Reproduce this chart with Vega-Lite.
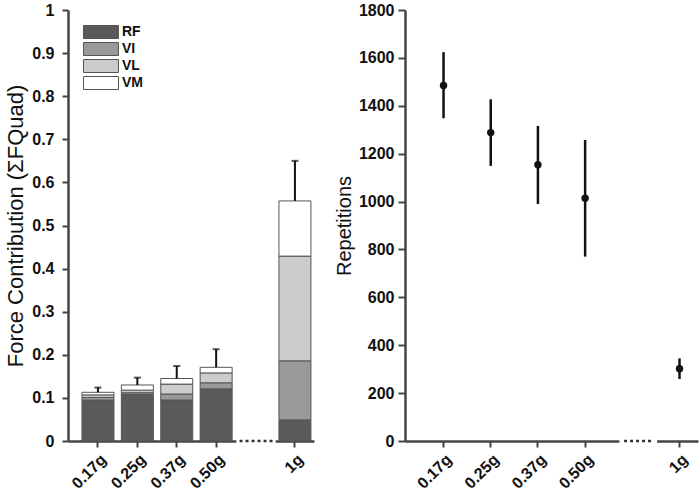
{
  "$schema": "https://vega.github.io/schema/vega-lite/v6.json",
  "background": "white",
  "padding": {"left": 4, "top": 2, "right": 3, "bottom": 3},
  "spacing": 20,
  "config": {
    "view": {"stroke": null},
    "font": "Liberation Sans",
    "axis": {
      "grid": false,
      "domainColor": "#444",
      "domainWidth": 2.5,
      "tickColor": "#444",
      "tickWidth": 2,
      "tickSize": 6,
      "labelFont": "Liberation Sans",
      "labelFontWeight": "bold",
      "labelFontSize": 16,
      "labelColor": "#111",
      "labelPadding": 4,
      "titleFont": "Liberation Sans",
      "titleFontWeight": "normal",
      "titleFontSize": 20,
      "titleColor": "#111"
    }
  },
  "datasets": {
    "muscles": [
      {"cond": "0.17g", "muscle": "RF", "value": 0.095},
      {"cond": "0.17g", "muscle": "VI", "value": 0.006},
      {"cond": "0.17g", "muscle": "VL", "value": 0.006},
      {"cond": "0.17g", "muscle": "VM", "value": 0.006},
      {"cond": "0.25g", "muscle": "RF", "value": 0.108},
      {"cond": "0.25g", "muscle": "VI", "value": 0.004},
      {"cond": "0.25g", "muscle": "VL", "value": 0.006},
      {"cond": "0.25g", "muscle": "VM", "value": 0.012},
      {"cond": "0.37g", "muscle": "RF", "value": 0.095},
      {"cond": "0.37g", "muscle": "VI", "value": 0.014},
      {"cond": "0.37g", "muscle": "VL", "value": 0.023},
      {"cond": "0.37g", "muscle": "VM", "value": 0.013},
      {"cond": "0.50g", "muscle": "RF", "value": 0.121},
      {"cond": "0.50g", "muscle": "VI", "value": 0.014},
      {"cond": "0.50g", "muscle": "VL", "value": 0.023},
      {"cond": "0.50g", "muscle": "VM", "value": 0.013},
      {"cond": "1g", "muscle": "RF", "value": 0.049},
      {"cond": "1g", "muscle": "VI", "value": 0.137},
      {"cond": "1g", "muscle": "VL", "value": 0.243},
      {"cond": "1g", "muscle": "VM", "value": 0.128}
    ],
    "forceErr": [
      {"cond": "0.17g", "total": 0.113, "upper": 0.124},
      {"cond": "0.25g", "total": 0.130, "upper": 0.147},
      {"cond": "0.37g", "total": 0.145, "upper": 0.174},
      {"cond": "0.50g", "total": 0.171, "upper": 0.213},
      {"cond": "1g", "total": 0.557, "upper": 0.650}
    ],
    "reps": [
      {"cond": "0.17g", "reps": 1485, "lo": 1348, "hi": 1624},
      {"cond": "0.25g", "reps": 1288, "lo": 1149, "hi": 1427},
      {"cond": "0.37g", "reps": 1154, "lo": 990, "hi": 1316},
      {"cond": "0.50g", "reps": 1014, "lo": 770, "hi": 1257},
      {"cond": "1g", "reps": 302, "lo": 259, "hi": 345}
    ],
    "gap": [{"cond": "gap"}]
  },
  "hconcat": [
    {
      "width": 246,
      "height": 431,
      "layer": [
        {
          "data": {"name": "muscles"},
          "mark": {"type": "bar", "stroke": "#555", "strokeWidth": 1},
          "encoding": {
            "x": {
              "field": "cond", "type": "nominal",
              "scale": {"type": "band", "domain": ["0.17g", "0.25g", "0.37g", "0.50g", "gap", "1g"], "paddingInner": 0.188, "paddingOuter": 0.216, "align": 0.82},
              "axis": {"values": ["0.17g", "0.25g", "0.37g", "0.50g", "1g"], "labelAngle": -45, "title": null}
            },
            "y": {
              "field": "value", "type": "quantitative", "stack": "zero",
              "scale": {"domain": [0, 1], "nice": false},
              "axis": {"values": [0, 0.1, 0.2, 0.3, 0.4, 0.5, 0.6, 0.7, 0.8, 0.9, 1], "format": ".1~f", "labelPadding": 8, "titleFontSize": 22, "titlePadding": 4, "title": "Force Contribution (ΣFQuad)"}
            },
            "color": {
              "field": "muscle", "type": "nominal",
              "scale": {"domain": ["RF", "VI", "VL", "VM"], "range": ["#5a5a5a", "#999999", "#cccccc", "#ffffff"]},
              "legend": {
                "orient": "none", "legendX": 26, "legendY": 15, "title": null,
                "symbolType": "M-2.69,-1H2.69V1H-2.69Z", "symbolSize": 169,
                "symbolStrokeColor": "#555", "symbolStrokeWidth": 1, "symbolOpacity": 1,
                "labelOffset": 14,
                "labelFontSize": 14, "labelFontWeight": "bold", "labelColor": "#111", "rowPadding": -1, "padding": 0
              }
            },
            "order": {"field": "muscle", "sort": "ascending"}
          }
        },
        {
          "data": {"name": "forceErr"},
          "mark": {"type": "rule", "color": "#111", "strokeWidth": 2},
          "encoding": {
            "x": {"field": "cond", "type": "nominal"},
            "y": {"field": "total", "type": "quantitative"},
            "y2": {"field": "upper"}
          }
        },
        {
          "data": {"name": "forceErr"},
          "mark": {"type": "tick", "color": "#111", "thickness": 2, "size": 7, "orient": "horizontal"},
          "encoding": {
            "x": {"field": "cond", "type": "nominal"},
            "y": {"field": "upper", "type": "quantitative"}
          }
        },
        {
          "data": {"name": "gap"},
          "mark": {"type": "rule", "color": "white", "strokeWidth": 6},
          "encoding": {
            "x": {"field": "cond", "type": "nominal", "bandPosition": -0.1},
            "x2": {"field": "cond", "bandPosition": 1.13},
            "y": {"datum": 0, "type": "quantitative"}
          }
        },
        {
          "data": {"name": "gap"},
          "mark": {"type": "rule", "color": "#333", "strokeWidth": 2.5, "strokeDash": [3, 3]},
          "encoding": {
            "x": {"field": "cond", "type": "nominal", "bandPosition": 0},
            "x2": {"field": "cond", "bandPosition": 1.06},
            "y": {"datum": 0, "type": "quantitative"}
          }
        }
      ]
    },
    {
      "width": 293,
      "height": 431,
      "layer": [
        {
          "data": {"name": "gap"},
          "mark": {"type": "rule", "color": "white", "strokeWidth": 6},
          "encoding": {
            "x": {
              "field": "cond", "type": "nominal", "bandPosition": -0.05,
              "scale": {"type": "band", "domain": ["0.17g", "0.25g", "0.37g", "0.50g", "gap", "1g"], "paddingInner": 0.5, "paddingOuter": 0.354, "align": 0.8},
              "axis": {"values": ["0.17g", "0.25g", "0.37g", "0.50g", "1g"], "labelAngle": -45, "title": null}
            },
            "x2": {"field": "cond", "bandPosition": 1.55},
            "y": {"datum": 0, "type": "quantitative"}
          }
        },
        {
          "data": {"name": "gap"},
          "mark": {"type": "rule", "color": "#333", "strokeWidth": 2.5, "strokeDash": [3, 3]},
          "encoding": {
            "x": {"field": "cond", "type": "nominal", "bandPosition": 0.15},
            "x2": {"field": "cond", "bandPosition": 1.4},
            "y": {"datum": 0, "type": "quantitative"}
          }
        },
        {
          "data": {"name": "reps"},
          "mark": {"type": "rule", "color": "#111", "strokeWidth": 2.5},
          "encoding": {
            "x": {"field": "cond", "type": "nominal"},
            "y": {
              "field": "lo", "type": "quantitative",
              "scale": {"domain": [0, 1800], "nice": false},
              "axis": {"values": [0, 200, 400, 600, 800, 1000, 1200, 1400, 1600, 1800], "format": "d", "tickSize": 7, "title": "Repetitions"}
            },
            "y2": {"field": "hi"}
          }
        },
        {
          "data": {"name": "reps"},
          "mark": {"type": "point", "filled": true, "color": "#111", "size": 55, "opacity": 1},
          "encoding": {
            "x": {"field": "cond", "type": "nominal"},
            "y": {"field": "reps", "type": "quantitative"}
          }
        }
      ]
    }
  ]
}
